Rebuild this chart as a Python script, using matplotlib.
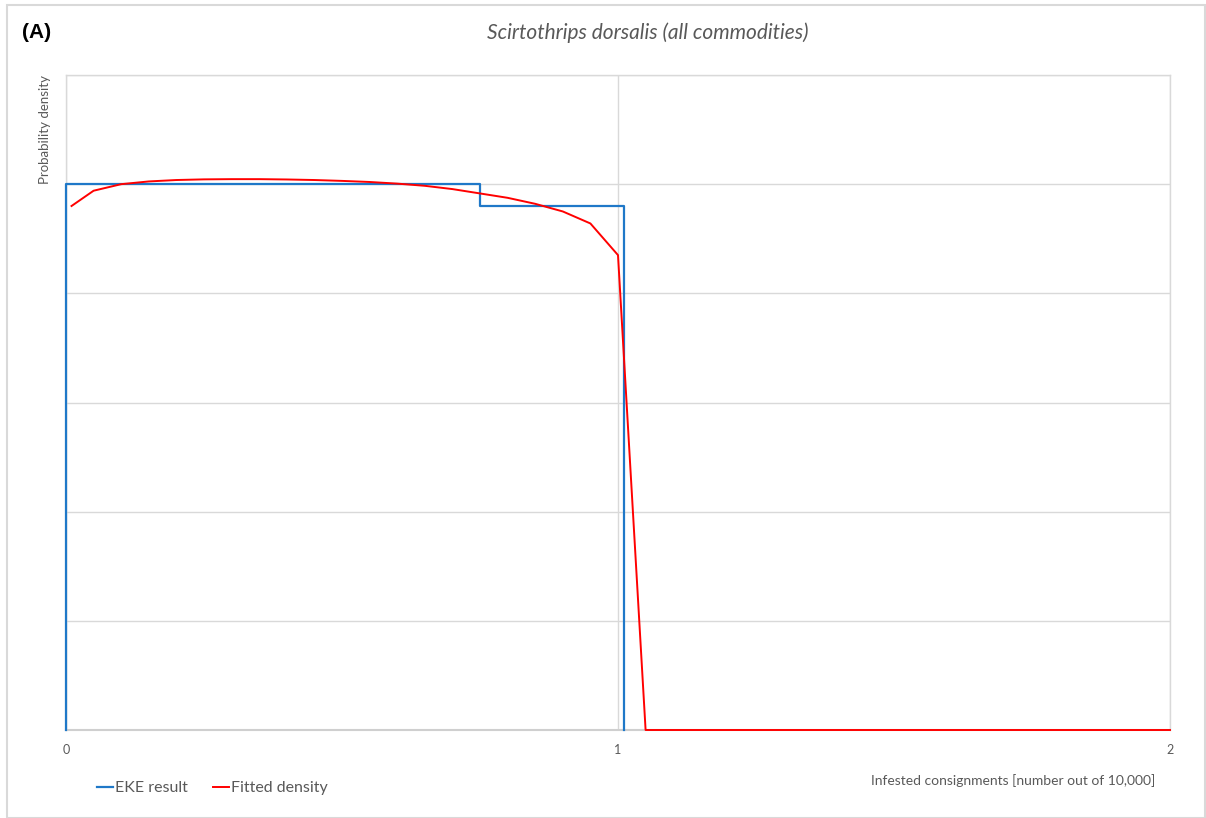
import numpy as np
import matplotlib.pyplot as plt
from matplotlib.patches import Rectangle

plt.rcParams['font.family'] = ['Lato', 'DejaVu Sans']

# EKE result (step shaped density)
eke_x = [0.0, 0.0, 0.75, 0.75, 1.01, 1.01]
eke_y = [0.0, 5.0, 5.0, 4.8, 4.8, 0.0]

# Fitted density
fit_x = [0.01, 0.05, 0.10, 0.15, 0.20, 0.25, 0.30, 0.35, 0.40, 0.45, 0.50,
         0.55, 0.60, 0.65, 0.70, 0.75, 0.80, 0.85, 0.90, 0.95, 1.00, 1.05, 2.00]
fit_y = [4.80, 4.94, 5.00, 5.025, 5.038, 5.044, 5.046, 5.046, 5.043, 5.038, 5.03,
         5.02, 5.005, 4.985, 4.955, 4.915, 4.875, 4.82, 4.75, 4.64, 4.35, 0.0, 0.0]

x_ticks = [0, 1, 2]
x_tick_labels = ["0", "1", "2"]

W, H = 1206, 818
fig = plt.figure(figsize=(W / 100, H / 100), dpi=100)
ax = fig.add_axes([66 / W, 1 - 730 / H, (1170 - 66) / W, (730 - 75) / H])

grid_col = "#d9d9d9"
ax.plot(eke_x, eke_y, color="#1f78c8", lw=1.6, label="EKE result", zorder=3, clip_on=False)
ax.plot(fit_x, fit_y, color="#ff0000", lw=1.4, label="Fitted density", zorder=4, clip_on=False)

ax.set_xlim(0, 2)
ax.set_ylim(0, 6)
ax.set_xticks(x_ticks)
ax.set_xticklabels(x_tick_labels, fontsize=9, color="#595959")
ax.set_yticks(np.arange(0, 7, 1))
ax.set_yticklabels([])
ax.tick_params(length=0, pad=10)
ax.grid(True, color=grid_col, lw=1)
ax.set_axisbelow(True)
for s in ax.spines.values():
    s.set_color(grid_col)
    s.set_linewidth(1)
ax.spines["bottom"].set_color("#cfcfcf")
ax.spines["bottom"].set_linewidth(1.5)

# texts
fig.text(22 / W, 1 - 33 / H, "(A)", fontsize=15, fontweight="bold", va="center", ha="left",
         family=["Liberation Sans", "DejaVu Sans"])
fig.text(648 / W, 1 - 33 / H, "Scirtothrips dorsalis (all commodities)", fontsize=15,
         style="italic", color="#595959", ha="center", va="center")
fig.text(45 / W, 1 - 75 / H, "Probability density", fontsize=9.5, color="#595959",
         rotation=90, ha="center", va="top")
fig.text(1155 / W, 1 - 781 / H, "Infested consignments [number out of 10,000]",
         fontsize=10, color="#595959", ha="right", va="center")

fig.legend(loc="center left", bbox_to_anchor=(97 / W, 1 - 788 / H), ncol=2,
           frameon=False, handlelength=1.0, handletextpad=0.1, columnspacing=1.6,
           fontsize=11.5, labelcolor="#595959", borderaxespad=0, borderpad=0)

# outer frame of the chart area
fig.patches.append(Rectangle((7 / W, 0), 1 - 7 / W - 1 / W, 1 - 5 / H, transform=fig.transFigure,
                             fill=False, edgecolor=grid_col, lw=1.5))

fig.savefig("out.png", dpi=100)
